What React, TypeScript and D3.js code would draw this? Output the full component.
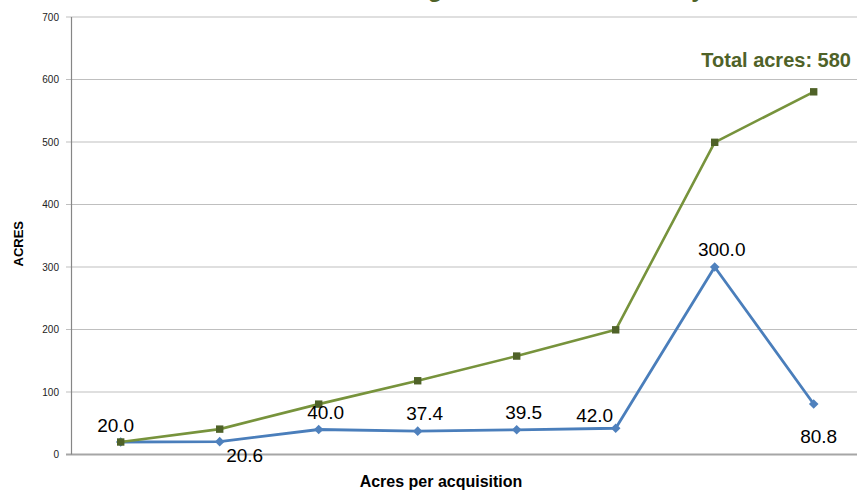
import React from "react";
import * as d3 from "d3";

const categories = ["A1", "A2", "A3", "A4", "A5", "A6", "A7", "A8"];
const perAcquisition = [20.0, 20.6, 40.0, 37.4, 39.5, 42.0, 300.0, 80.8];
const cumulative = [20.0, 40.6, 80.6, 118.0, 157.5, 199.5, 499.5, 580.3];
const yTicks = [0, 100, 200, 300, 400, 500, 600, 700];
const labelPlacement = ["aboveLeft", "belowRight", "above", "above", "above", "aboveLeft2", "above", "below"];
const titleText = "Acreage Growth Over Time by Year";
const totalText = "Total acres: 580";

const W = 857;
const H = 492;

export default function App() {
  const x = d3.scaleBand<string>().domain(categories).range([71.2, 71.2 + 99 * 8]);
  const y = d3.scaleLinear().domain([0, 700]).range([454.5, 17]);
  const cx = (c: string) => (x(c) as number) + x.bandwidth() / 2;

  const line = d3
    .line<number>()
    .x((_, i) => cx(categories[i]))
    .y((d) => y(d));

  const diamond = d3.symbol().type(d3.symbolSquare).size(46)() as string;

  const labelPos = (i: number) => {
    const px = cx(categories[i]);
    const py = y(perAcquisition[i]);
    const p = labelPlacement[i];
    if (p === "aboveLeft") return { x: px - 5, y: py - 10 };
    if (p === "belowRight") return { x: px + 25, y: py + 20 };
    if (p === "aboveLeft2") return { x: px - 21, y: py - 6 };
    if (p === "below") return { x: px + 5, y: py + 39 };
    return { x: px + 7, y: py - 11 };
  };

  const font = "'Liberation Sans', Arial, sans-serif";

  return (
    <div style={{ position: "absolute", left: 0, top: 0 }}>
      <svg width={W} height={H} style={{ display: "block", background: "#fff" }} fontFamily={font}>
        <text x={361} y={-3} fontSize={24} fontWeight="bold" fill="#4F6228">
          {titleText}
        </text>
        {yTicks.map((t) => (
          <g key={t}>
            <line x1={66} x2={W} y1={y(t)} y2={y(t)} stroke={t === 0 ? "#A6A6A6" : "#BFBFBF"} strokeWidth={t === 0 ? 2 : 1.2} />
            <text x={59} y={y(t) + 3.5} fontSize={10} textAnchor="end" fill="#222">
              {t}
            </text>
          </g>
        ))}
        <line x1={71.5} x2={71.5} y1={y(700)} y2={y(0)} stroke="#868686" strokeWidth={1.2} />

        <path d={line(perAcquisition) as string} fill="none" stroke="#4A7EBB" strokeWidth={2.8} strokeLinejoin="round" />
        {perAcquisition.map((v, i) => (
          <path key={i} d={diamond} transform={`translate(${cx(categories[i])},${y(v)}) rotate(45)`} fill="#4F81BD" />
        ))}

        <path d={line(cumulative) as string} fill="none" stroke="#77933C" strokeWidth={2.6} strokeLinejoin="round" />
        {cumulative.map((v, i) => (
          <rect key={i} x={cx(categories[i]) - 3.7} y={y(v) - 3.7} width={7.4} height={7.4} fill="#4F6228" />
        ))}

        {perAcquisition.map((v, i) => {
          const p = labelPos(i);
          return (
            <text key={i} x={p.x} y={p.y} fontSize={19} textAnchor="middle" fill="#000">
              {v.toFixed(1)}
            </text>
          );
        })}

        <text x={851} y={67} fontSize={20} fontWeight="bold" textAnchor="end" fill="#4F6228">
          {totalText}
        </text>

        <text transform={`translate(23,${(y(0) + y(700)) / 2 + 8}) rotate(-90)`} fontSize={13} fontWeight="bold" textAnchor="middle" fill="#000">
          ACRES
        </text>
        <text x={441} y={487} fontSize={16} fontWeight="bold" textAnchor="middle" fill="#000">
          Acres per acquisition
        </text>
      </svg>
    </div>
  );
}
